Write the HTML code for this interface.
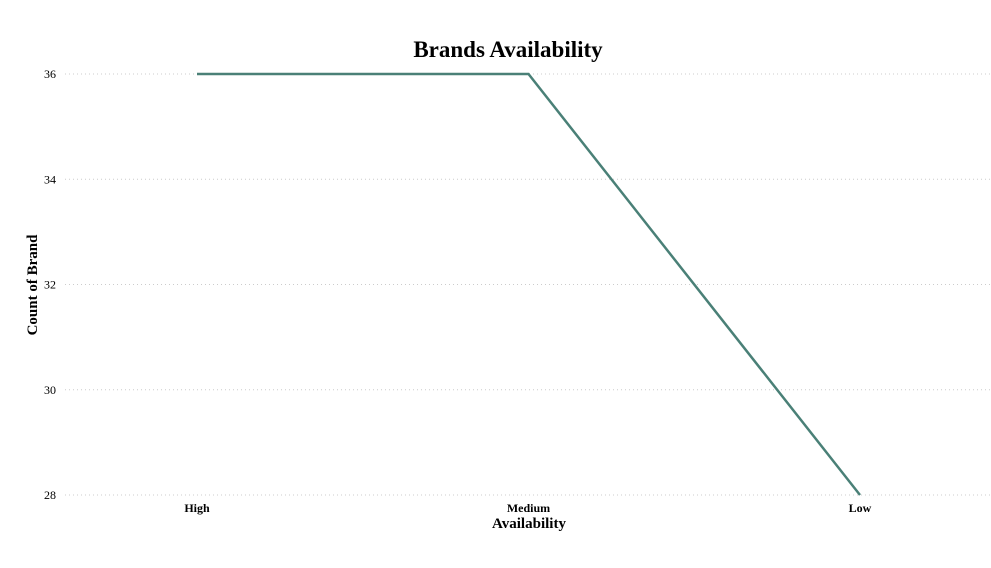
<!DOCTYPE html>
<html><head><meta charset="utf-8"><style>
html,body{margin:0;padding:0;background:#fff;}
svg{display:block;font-family:"Liberation Serif",serif;}
</style></head><body>
<svg id="chart" width="991" height="568">
<text x="508" y="57" text-anchor="middle" font-size="23" font-weight="bold" fill="#000">Brands Availability</text>
<g id="grid"></g><g id="yticks"></g><g id="xticks"></g><g id="series"></g>
<text x="529" y="528" text-anchor="middle" font-size="15" font-weight="bold" fill="#000">Availability</text>
<text transform="translate(37,285) rotate(-90)" text-anchor="middle" font-size="15" font-weight="bold" fill="#000">Count of Brand</text>
</svg>
<script>
const categories=["High","Medium","Low"];
const values=[36,36,28];
const yTicks=[28,30,32,34,36];
const NS="http://www.w3.org/2000/svg";
const x0=197,x1=860,yMin=28,yMax=36,pyMin=495,pyMax=74;
function xs(i){return x0+(x1-x0)*i/(categories.length-1);}
function ys(v){return pyMin+(v-yMin)*(pyMax-pyMin)/(yMax-yMin);}
function mk(tag,attrs,parent){const e=document.createElementNS(NS,tag);for(const k in attrs)e.setAttribute(k,attrs[k]);document.getElementById(parent).appendChild(e);return e;}
yTicks.forEach(t=>{
  const l=mk("line",{x1:65,x2:990,y1:ys(t),y2:ys(t),stroke:"#cccccc","stroke-width":1,"stroke-dasharray":"1,3"},"grid");
  
  
  const tx=mk("text",{x:56,y:ys(t)+4,"text-anchor":"end","font-size":12,fill:"#000"},"yticks");
  tx.textContent=t;
  
  
});
categories.forEach((c,i)=>{
  const tx=mk("text",{x:xs(i),y:512,"text-anchor":"middle","font-size":12,"font-weight":"bold",fill:"#000"},"xticks");
  tx.textContent=c;
  
  
});
const pts=values.map((v,i)=>xs(i)+","+ys(v)).join(" ");
const pl=mk("polyline",{points:pts,fill:"none",stroke:"#4a8077","stroke-width":2.5},"series");


</script>
</body></html>
